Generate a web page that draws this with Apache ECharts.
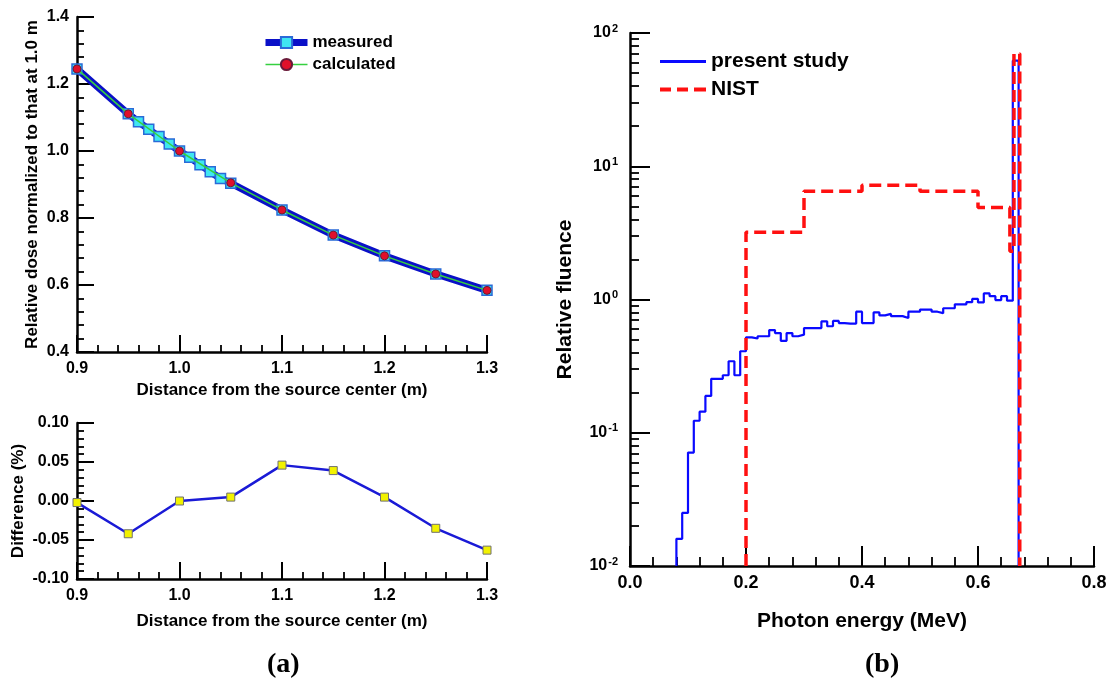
<!DOCTYPE html>
<html>
<head>
<meta charset="utf-8">
<title>Relative dose and photon fluence</title>
<script src="https://cdn.jsdelivr.net/npm/echarts@6/dist/echarts.min.js"></script>
<style>
  html, body { margin: 0; padding: 0; background: #fff; }
  #chart { width: 1116px; height: 686px; }
</style>
</head>
<body>
<div id="chart"></div>
<script>
// (a) top: relative dose normalized at 1.0 m
const distMeasured = [0.9, 0.95, 0.96, 0.97, 0.98, 0.99, 1.0, 1.01, 1.02, 1.03, 1.04, 1.05, 1.1, 1.15, 1.2, 1.25, 1.3];
const doseMeasured = [1.245, 1.111, 1.087, 1.065, 1.043, 1.021, 1.0, 0.981, 0.959, 0.938, 0.918, 0.904, 0.824, 0.749, 0.687, 0.633, 0.584];
const distCalc = [0.9, 0.95, 1.0, 1.05, 1.1, 1.15, 1.2, 1.25, 1.3];
const doseCalc = [1.245, 1.111, 1.0, 0.905, 0.824, 0.749, 0.687, 0.633, 0.584];

// (a) bottom: difference (%)
const diffDist = [0.9, 0.95, 1.0, 1.05, 1.1, 1.15, 1.2, 1.25, 1.3];
const diffPct = [-0.002, -0.042, 0.0, 0.005, 0.046, 0.039, 0.005, -0.035, -0.063];

// (b) photon spectrum, left bin edges (MeV) and relative fluence
const studyEdges = [0.08, 0.09, 0.10, 0.11, 0.12, 0.13, 0.14, 0.15, 0.16, 0.17, 0.18, 0.19,
  0.20, 0.21, 0.22, 0.23, 0.24, 0.25, 0.26, 0.27, 0.28, 0.29,
  0.30, 0.31, 0.32, 0.33, 0.34, 0.35, 0.36, 0.37, 0.38, 0.39,
  0.40, 0.41, 0.42, 0.43, 0.44, 0.45, 0.46, 0.47, 0.48, 0.49,
  0.50, 0.51, 0.52, 0.53, 0.54, 0.55, 0.56, 0.57, 0.58, 0.59,
  0.60, 0.61, 0.62, 0.63, 0.64, 0.65, 0.66];
const studyFluence = [0.016, 0.025, 0.071, 0.123, 0.144, 0.189, 0.254, 0.254, 0.27, 0.344, 0.27, 0.409,
  0.52, 0.51, 0.53, 0.53, 0.59, 0.56, 0.49, 0.56, 0.53, 0.545,
  0.61, 0.61, 0.61, 0.685, 0.63, 0.69, 0.665, 0.66, 0.66, 0.81,
  0.665, 0.665, 0.80, 0.76, 0.78, 0.75, 0.75, 0.726, 0.81, 0.81,
  0.84, 0.84, 0.81, 0.79, 0.86, 0.86, 0.92, 0.92, 0.955, 1.01,
  0.95, 1.11, 1.06, 0.99, 1.06, 0.98, 62];
const studyEnd = 0.67;

const nistEdges = [0.2, 0.3, 0.4, 0.5, 0.6, 0.655, 0.662];
const nistFluence = [3.2, 6.5, 7.2, 6.5, 4.9, 2.3, 70];
const nistEnd = 0.672;

const fluenceFloor = 0.01;

const FONT = '"Liberation Sans", Arial, sans-serif';

function histogram(edges, values, end) {
  const pts = [[edges[0], fluenceFloor]];
  edges.forEach((e, i) => pts.push([e, values[i]]));
  pts.push([end, fluenceFloor]);
  return pts;
}

function axisBase(majorLen, minorLen, minorSplit, labelSize) {
  return {
    axisLine: { onZero: false, lineStyle: { color: '#000', width: 2.5 } },
    axisTick: { inside: true, length: majorLen, lineStyle: { color: '#000', width: 2 } },
    minorTick: { show: true, splitNumber: minorSplit, length: minorLen, lineStyle: { color: '#000', width: 1.8 } },
    splitLine: { show: false },
    minorSplitLine: { show: false },
    axisLabel: { color: '#000', fontWeight: 'bold', fontSize: labelSize, fontFamily: FONT },
    nameLocation: 'middle',
    nameTextStyle: { color: '#000', fontWeight: 'bold', fontSize: 17, fontFamily: FONT }
  };
}

const chart = echarts.init(document.getElementById('chart'));

const xTop = axisBase(17, 7, 5, 16);
const yTop = axisBase(17, 7, 5, 16);
const xBot = axisBase(17, 7, 5, 16);
const yBot = axisBase(17, 7, 5, 16);
const xRight = axisBase(20, 9, 5, 18);
const yRight = axisBase(20, 9, 9, 16);

const option = {
  animation: false,
  backgroundColor: '#fff',
  grid: [
    { left: 77, top: 17, width: 410, height: 335 },
    { left: 77, top: 423, width: 410, height: 156 },
    { left: 630, top: 33, width: 464, height: 533 }
  ],
  legend: [
    {
      data: [
        { name: 'measured', lineStyle: { width: 7 } },
        { name: 'calculated', lineStyle: { width: 1.5 } }
      ],
      orient: 'vertical', left: 257, top: 29,
      itemWidth: 42, itemHeight: 14, itemGap: 5,
      textStyle: { color: '#000', fontWeight: 'bold', fontSize: 17, fontFamily: FONT }
    },
    {
      data: [
        { name: 'present study', icon: 'path://M0,0h46v3h-46z' },
        { name: 'NIST', icon: 'path://M0,0h11v4h-11z M17,0h11v4h-11z M34,0h12v4h-12z' }
      ],
      orient: 'vertical', left: 655, top: 46,
      itemWidth: 46, itemHeight: 4, itemGap: 7,
      textStyle: { color: '#000', fontWeight: 'bold', fontSize: 21, fontFamily: FONT }
    }
  ],
  xAxis: [
    Object.assign(xTop, {
      gridIndex: 0, type: 'value', min: 0.9, max: 1.3, interval: 0.1,
      name: 'Distance from the source center (m)', nameGap: 30,
      axisLabel: Object.assign(xTop.axisLabel, { margin: 9, formatter: v => v.toFixed(1) })
    }),
    Object.assign(xBot, {
      gridIndex: 1, type: 'value', min: 0.9, max: 1.3, interval: 0.1,
      name: 'Distance from the source center (m)', nameGap: 34,
      axisLabel: Object.assign(xBot.axisLabel, { margin: 9, formatter: v => v.toFixed(1) })
    }),
    Object.assign(xRight, {
      gridIndex: 2, type: 'value', min: 0, max: 0.8, interval: 0.2,
      name: 'Photon energy (MeV)', nameGap: 45,
      nameTextStyle: Object.assign(xRight.nameTextStyle, { fontSize: 21 }),
      axisLabel: Object.assign(xRight.axisLabel, { margin: 8, formatter: v => v.toFixed(1) })
    })
  ],
  yAxis: [
    Object.assign(yTop, {
      gridIndex: 0, type: 'value', min: 0.4, max: 1.4, interval: 0.2,
      name: 'Relative dose normalized to that at 1.0 m', nameGap: 36,
      axisLabel: Object.assign(yTop.axisLabel, { margin: 8, formatter: v => v.toFixed(1) })
    }),
    Object.assign(yBot, {
      gridIndex: 1, type: 'value', min: -0.1, max: 0.1, interval: 0.05,
      name: 'Difference (%)', nameGap: 50,
      axisLabel: Object.assign(yBot.axisLabel, { margin: 8, formatter: v => v.toFixed(2) })
    }),
    Object.assign(yRight, {
      gridIndex: 2, type: 'log', logBase: 10, min: 0.01, max: 100,
      name: 'Relative fluence', nameGap: 54,
      nameTextStyle: Object.assign(yRight.nameTextStyle, { fontSize: 21 }),
      axisLabel: Object.assign(yRight.axisLabel, {
        margin: 12,
        formatter: v => '10{sup|' + Math.round(Math.log10(v)) + '}',
        rich: { sup: { fontSize: 11, fontWeight: 'bold', fontFamily: FONT, color: '#000', verticalAlign: 'top', padding: [0, 0, 9, 1] } }
      })
    })
  ],
  series: [
    {
      name: 'measured', type: 'line', xAxisIndex: 0, yAxisIndex: 0,
      data: distMeasured.map((d, i) => [d, doseMeasured[i]]),
      symbol: 'rect', symbolSize: 10,
      lineStyle: { color: '#0a10c8', width: 7 },
      itemStyle: { color: '#3fe6f2', borderColor: '#2a6ad8', borderWidth: 1.5 },
      z: 2
    },
    {
      name: 'calculated', type: 'line', xAxisIndex: 0, yAxisIndex: 0,
      data: distCalc.map((d, i) => [d, doseCalc[i]]),
      symbol: 'circle', symbolSize: 8,
      lineStyle: { color: '#35d040', width: 1.5 },
      itemStyle: { color: '#e0102a', borderColor: '#6a1a3a', borderWidth: 1 },
      z: 3
    },
    {
      name: 'difference', type: 'line', xAxisIndex: 1, yAxisIndex: 1,
      data: diffDist.map((d, i) => [d, diffPct[i]]),
      symbol: 'rect', symbolSize: 8,
      lineStyle: { color: '#1a1ad6', width: 2.5 },
      itemStyle: { color: '#f2f200', borderColor: '#707070', borderWidth: 1 }
    },
    {
      name: 'present study', type: 'line', xAxisIndex: 2, yAxisIndex: 2,
      data: histogram(studyEdges, studyFluence, studyEnd),
      step: 'end', showSymbol: false, symbol: 'none',
      lineStyle: { color: '#0a0aff', width: 2.2 },
      itemStyle: { color: '#0a0aff' }
    },
    {
      name: 'NIST', type: 'line', xAxisIndex: 2, yAxisIndex: 2,
      data: histogram(nistEdges, nistFluence, nistEnd),
      step: 'end', showSymbol: false, symbol: 'none',
      lineStyle: { color: '#ff1010', width: 3.5, type: [12, 6] },
      itemStyle: { color: '#ff1010' }
    }
  ],
  graphic: [
    { type: 'text', left: 267, top: 651, style: { text: '(a)', font: 'bold 28px "Liberation Serif", "Times New Roman", serif', fill: '#000' } },
    { type: 'text', left: 865, top: 651, style: { text: '(b)', font: 'bold 28px "Liberation Serif", "Times New Roman", serif', fill: '#000' } }
  ]
};

chart.setOption(option);
</script>
</body>
</html>
